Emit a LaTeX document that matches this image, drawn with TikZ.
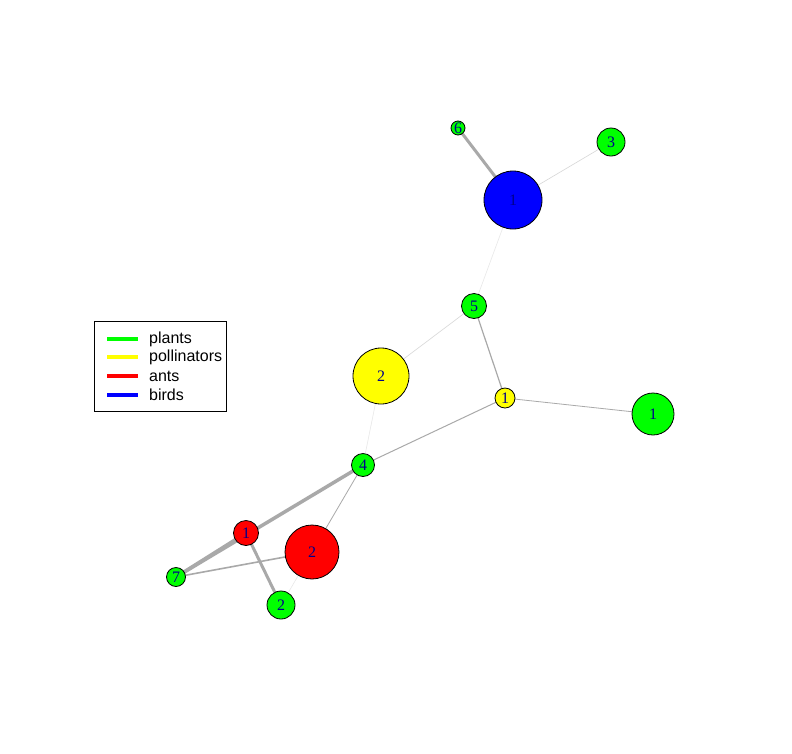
\documentclass[tikz,border=0pt]{standalone}
\usepackage{fontspec}
\setmainfont{Liberation Serif}
\newfontfamily\legfont{Liberation Sans}
\usetikzlibrary{backgrounds}
\definecolor{plantc}{RGB}{0,255,0}
\definecolor{pollc}{RGB}{255,255,0}
\definecolor{antc}{RGB}{255,0,0}
\definecolor{birdc}{RGB}{0,0,255}
\definecolor{labc}{RGB}{0,0,139}
\definecolor{edgec}{RGB}{169,169,169}
\definecolor{edgelight}{RGB}{215,215,215}
\definecolor{edgefaint}{RGB}{232,232,232}
\tikzset{
  vtx/.style={circle, draw=black, line width=0.8pt, inner sep=0pt, text=labc,
    font=\fontsize{16}{16}\selectfont},
  plant/.style={vtx, fill=plantc},
  poll/.style={vtx, fill=pollc},
  ant/.style={vtx, fill=antc},
  bird/.style={vtx, fill=birdc},
  ed/.style={draw=edgec},
  edlight/.style={draw=edgelight, line width=0.6pt},
  edfaint/.style={draw=edgefaint, line width=0.6pt},
  legline/.style={line width=3.5pt},
  legtext/.style={anchor=west, inner sep=0pt, font=\legfont\fontsize{16}{16}\selectfont}
}
\begin{document}
\begin{tikzpicture}[x=1pt,y=-1pt]
\useasboundingbox (0,0) rectangle (792,753);
% nodes
\node[bird,  minimum size=58pt] (b1) at (513,200) {1};
\node[plant, minimum size=14pt] (p6) at (458,128) {6};
\node[plant, minimum size=28pt] (p3) at (611,142) {3};
\node[plant, minimum size=25pt] (p5) at (474,306) {5};
\node[poll,  minimum size=56pt] (y2) at (381,376) {2};
\node[poll,  minimum size=20pt] (y1) at (505,398) {1};
\node[plant, minimum size=42pt] (p1) at (653,414) {1};
\node[plant, minimum size=23pt] (p4) at (363,465) {4};
\node[ant,   minimum size=25pt] (a1) at (246,533) {1};
\node[ant,   minimum size=54pt] (a2) at (312,552) {2};
\node[plant, minimum size=19pt] (p7) at (176,577) {7};
\node[plant, minimum size=28pt] (p2) at (281,605) {2};
% edges (behind nodes)
\begin{scope}[on background layer]
\fill[white] (0,0) rectangle (792,753);
\draw[ed, line width=3pt] (p6.center) -- (b1.center);
\draw[edlight] (p3.center) -- (b1.center);
\draw[edfaint] (b1.center) -- (p5.center);
\draw[edlight] (p5.center) -- (y2.center);
\draw[ed, line width=1.2pt] (p5.center) -- (y1.center);
\draw[ed, line width=0.8pt] (y1.center) -- (p1.center);
\draw[ed, line width=1pt] (y1.center) -- (p4.center);
\draw[edfaint] (y2.center) -- (p4.center);
\draw[ed, line width=3.5pt] (p7.center) -- (p4.center);
\draw[ed, line width=3.5pt] (p7.center) -- (a1.center);
\draw[ed, line width=0.8pt] (p4.center) -- (a2.center);
\draw[ed, line width=1.6pt] (p7.center) -- (a2.center);
\draw[ed, line width=3pt] (a1.center) -- (p2.center);
\draw[edfaint] (a2.center) -- (p2.center);
\end{scope}
% legend
\node[draw=black, line width=0.8pt, minimum width=132pt, minimum height=90pt, inner sep=0pt] (leg) at (160,366) {};
\coordinate (l1a) at (107,339); \coordinate (l1b) at (138,339);
\coordinate (l2a) at (107,357); \coordinate (l2b) at (138,357);
\coordinate (l3a) at (107,376); \coordinate (l3b) at (138,376);
\coordinate (l4a) at (107,395); \coordinate (l4b) at (138,395);
\draw[legline, plantc] (l1a) -- (l1b);
\draw[legline, pollc] (l2a) -- (l2b);
\draw[legline, antc] (l3a) -- (l3b);
\draw[legline, birdc] (l4a) -- (l4b);
\node[legtext] (t1) at (149,339) {plants};
\node[legtext] (t2) at (149,357) {pollinators};
\node[legtext] (t3) at (149,376) {ants};
\node[legtext] (t4) at (149,395) {birds};
\end{tikzpicture}
\end{document}
